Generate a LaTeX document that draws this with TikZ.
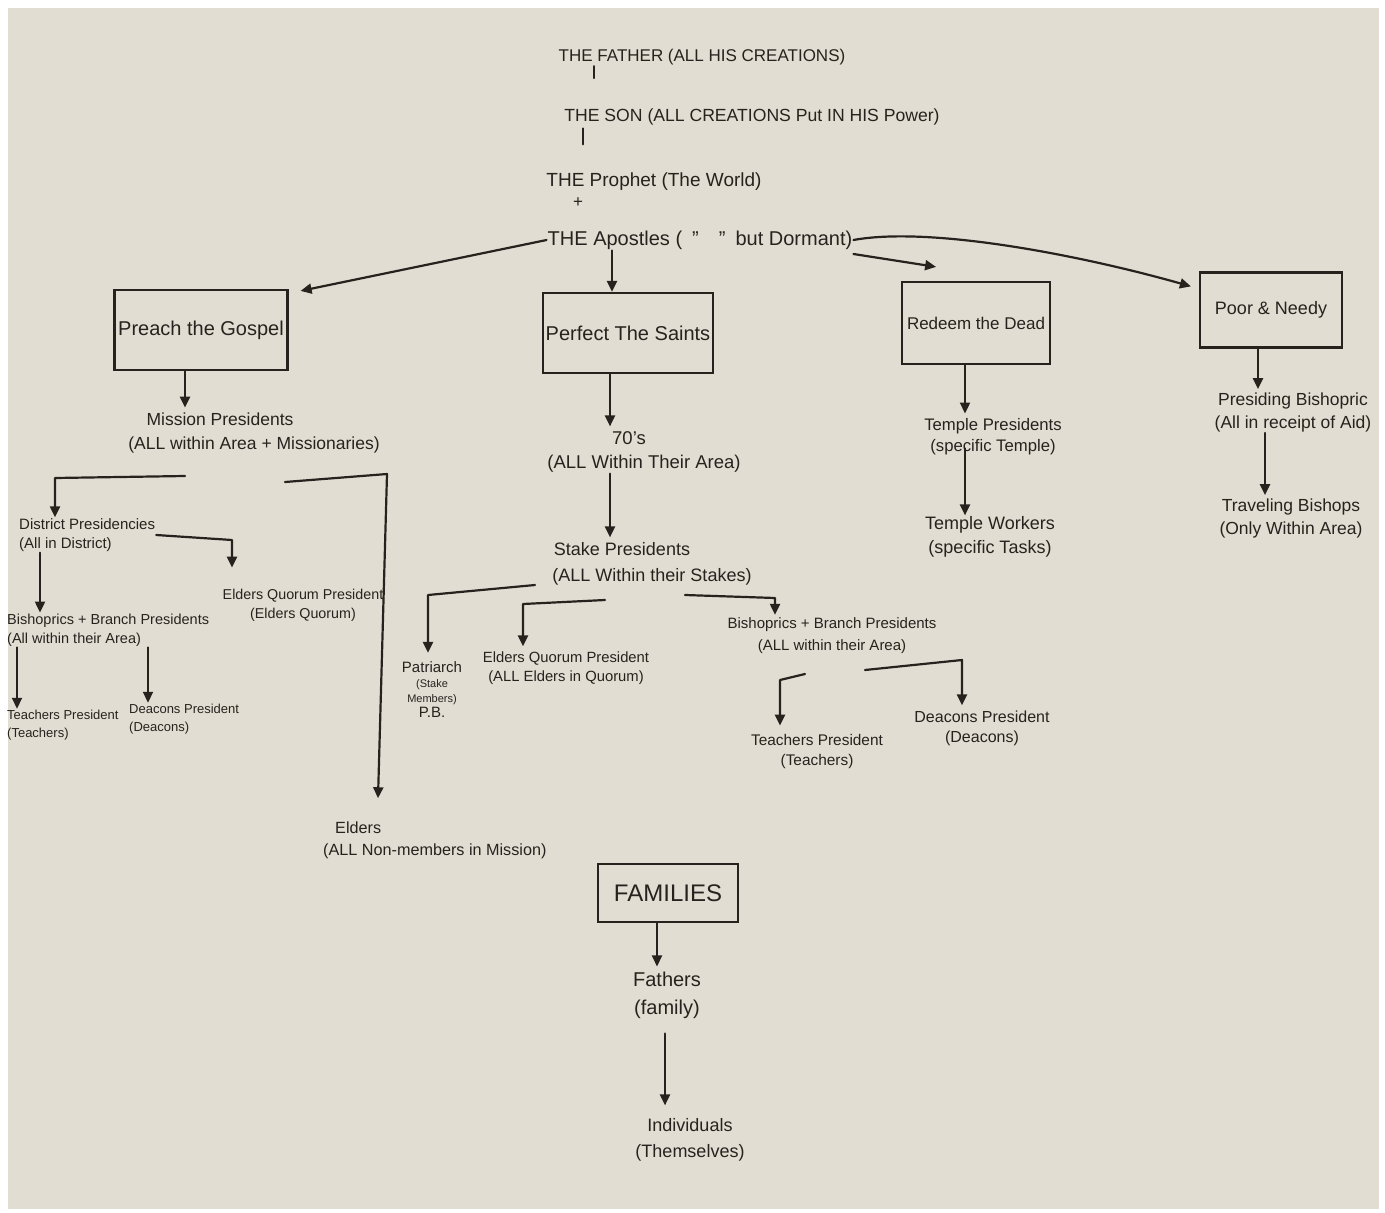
\documentclass[tikz,border=0pt]{standalone}
\usepackage{fontspec}
\setmainfont{Liberation Sans}
\usetikzlibrary{arrows.meta}
\definecolor{ink}{RGB}{40,34,30}
\definecolor{paper}{RGB}{226,221,211}
\begin{document}
\begin{tikzpicture}[x=1pt,y=-1pt,
  t/.style={text=ink, inner sep=1pt, align=center, font=\fontsize{15}{19}\selectfont},
  tl/.style={t, align=left},
  ttop/.style={t, font=\fontsize{17}{20}\selectfont},
  box/.style={draw=ink, line width=2.2pt, inner sep=0pt, text=ink, font=\fontsize{20}{24}\selectfont},
  ln/.style={draw=ink, line width=2.2pt, line cap=round, line join=round},
  arr/.style={ln, -{Triangle[length=11pt,width=10pt]}},
]
\useasboundingbox (0,0) rectangle (1385,1213);
\fill[white] (0,0) rectangle (1385,1213);
\fill[paper] (8,8) rectangle (1379,1209);

% top chain
\node[ttop] (father) at (702,57) {THE FATHER (ALL HIS CREATIONS)};
\node[ttop, font=\fontsize{17.6}{20}\selectfont] (son) at (752,117) {THE SON (ALL CREATIONS Put IN HIS Power)};
\node[ttop, font=\fontsize{19}{22}\selectfont] (prophet) at (654,182) {THE Prophet (The World)};
\node[ttop] (plus) at (578,203) {+};
\node[ttop, font=\fontsize{20}{24}\selectfont] (apostles) at (700,240) {THE Apostles (\enspace"\quad"\enspace but Dormant)};

\draw[ln] (father.south -| 594,0) -- ++(0,12);
\draw[ln] (son.south -| 583,0) ++(0,2) -- ++(0,16);

% boxes
\node[box, minimum width=173pt, minimum height=80pt] (preach) at (201,330) {Preach the Gospel};
\node[box, minimum width=170pt, minimum height=80pt] (perfect) at (628,333) {Perfect The Saints};
\node[box, font=\fontsize{17}{20}\selectfont, minimum width=148pt, minimum height=82pt] (redeem) at (976,323) {Redeem the Dead};
\node[box, font=\fontsize{18}{22}\selectfont, minimum width=142pt, minimum height=75pt] (poor) at (1271,310) {Poor \& Needy};
\node[box, font=\fontsize{24}{28}\selectfont, minimum width=140pt, minimum height=58pt] (fam) at (668,893) {FAMILIES};

% apostles to boxes
\draw[arr] (apostles.west) -- ([xshift=12pt,yshift=-2pt]preach.north east);
\draw[arr] (apostles.south -| 612,0) -- (perfect.north -| 612,0);
\draw[arr] ([yshift=-14pt]apostles.east) -- ([xshift=-115pt,yshift=14pt]redeem.north east);
\draw[arr] (apostles.east) .. controls (930,226) and (1080,255) .. ([xshift=-8pt,yshift=-15pt]poor.north west);

% Preach the Gospel subtree
\node[t, font=\fontsize{17.5}{24}\selectfont] (mp) at (254,433) {Mission Presidents\hspace*{68pt}\\(ALL within Area + Missionaries)};
\node[tl, anchor=west] (dp) at (18,535) {District Presidencies\\(All in District)};
\node[t, font=\fontsize{14.3}{19}\selectfont] (eq1) at (303,605) {Elders Quorum President\\(Elders Quorum)};
\node[tl, font=\fontsize{14.5}{19}\selectfont, anchor=west] (bp1) at (6,630) {Bishoprics + Branch Presidents\\(All within their Area)};
\node[tl, font=\fontsize{13}{18}\selectfont, anchor=west] (tp1) at (6,725) {Teachers President\\(Teachers)};
\node[tl, font=\fontsize{13}{18}\selectfont, anchor=west] (dcp1) at (128,719) {Deacons President\\(Deacons)};
\node[tl, font=\fontsize{16.2}{22}\selectfont, anchor=west] (eld) at (322,840) {\hspace*{12pt}Elders\\(ALL Non-members in Mission)};

\draw[arr, shorten >=4pt] (preach.south -| 185,0) -- (mp.north -| 185,0);
\coordinate (m1) at (185,476);
\draw[arr] (m1) -- (55,478) -- (dp.north -| 55,0);
\coordinate (m2) at (285,482);
\draw[arr] (m2) -- (387,474) -- ([yshift=22pt]eld.north -| 378,0);
\draw[arr] (dp.east) -- (232,540) -- ([yshift=20pt]eq1.north -| 232,0);
\draw[arr] (dp.south -| 40,0) -- (bp1.north -| 40,0);
\draw[arr] (bp1.south -| 17,0) -- (tp1.north -| 17,0);
\draw[arr] (bp1.south -| 148,0) -- (dcp1.north -| 148,0);

% Perfect the Saints subtree
\node[t, font=\fontsize{18.5}{24}\selectfont] (z) at (644,452) {70's\hspace*{30pt}\\(ALL Within Their Area)};
\node[t, font=\fontsize{18}{26}\selectfont] (sp) at (652,564) {Stake Presidents\hspace*{60pt}\\(ALL Within their Stakes)};
\node[t, font=\fontsize{15}{15}\selectfont] (pat) at (432,690) {Patriarch\\\fontsize{11}{13}\selectfont (Stake\\\fontsize{11}{13}\selectfont Members)\\\fontsize{15}{17}\selectfont P.B.};
\node[t, font=\fontsize{14.8}{19}\selectfont] (eq2) at (566,668) {Elders Quorum President\\(ALL Elders in Quorum)};
\node[t, font=\fontsize{15}{22}\selectfont] (bp2) at (832,636) {Bishoprics + Branch Presidents\\(ALL within their Area)};
\node[t, font=\fontsize{15.4}{20}\selectfont] (tp2) at (817,752) {Teachers President\\(Teachers)};
\node[t, font=\fontsize{16}{20}\selectfont] (dcp2) at (982,728) {Deacons President\\(Deacons)};

\draw[arr, shorten >=4pt] (perfect.south -| 610,0) -- (z.north -| 610,0);
\draw[arr, shorten >=4pt] (z.south -| 610,0) -- (sp.north -| 610,0);
\coordinate (s1) at (535,585);
\draw[arr, shorten >=8pt] (s1) -- (428,595) -- (pat.north -| 428,0);
\coordinate (s2) at (605,600);
\draw[arr, shorten >=4pt] (s2) -- (523,604) -- (eq2.north -| 523,0);
\coordinate (s3) at (685,595);
\draw[arr, shorten >=2pt] (s3) -- (775,598) -- (bp2.north -| 775,0);
\coordinate (b1) at (805,674);
\draw[arr, shorten >=8pt] (b1) -- (780,680) -- (tp2.north -| 780,0);
\coordinate (b2) at (865,670);
\draw[arr, shorten >=4pt] (b2) -- (962,660) -- (dcp2.north -| 962,0);

% Redeem the Dead subtree
\node[t, font=\fontsize{16.7}{21}\selectfont] (tpres) at (993,437) {Temple Presidents\\(specific Temple)};
\node[t, font=\fontsize{18}{24}\selectfont] (tw) at (990,537) {Temple Workers\\(specific Tasks)};
\draw[arr, shorten >=4pt] (redeem.south -| 965,0) -- (tpres.north -| 965,0);
\draw[arr] (tpres.south -| 965,0) ++(0,-8) -- (tw.north -| 965,0);

% Poor & Needy subtree
\node[t, font=\fontsize{17.5}{23}\selectfont] (pb) at (1293,412) {Presiding Bishopric\\(All in receipt of Aid)};
\node[t, font=\fontsize{17.5}{23}\selectfont] (tb) at (1291,518) {Traveling Bishops\\(Only Within Area)};
\draw[arr, shorten >=2pt] (poor.south -| 1258,0) -- (pb.north -| 1258,0);
\draw[arr, shorten >=2pt] (pb.south -| 1265,0) -- (tb.north -| 1265,0);

% Families
\node[t, font=\fontsize{20}{28}\selectfont] (fa) at (667,995) {Fathers\\(family)};
\node[t, font=\fontsize{18}{26}\selectfont] (ind) at (690,1140) {Individuals\\(Themselves)};
\draw[arr, shorten >=4pt] (fam.south -| 657,0) -- (fa.north -| 657,0);
\draw[arr, shorten >=12pt] ([yshift=-14pt]fa.south -| 665,0) -- (ind.north -| 665,0);
\end{tikzpicture}
\end{document}
